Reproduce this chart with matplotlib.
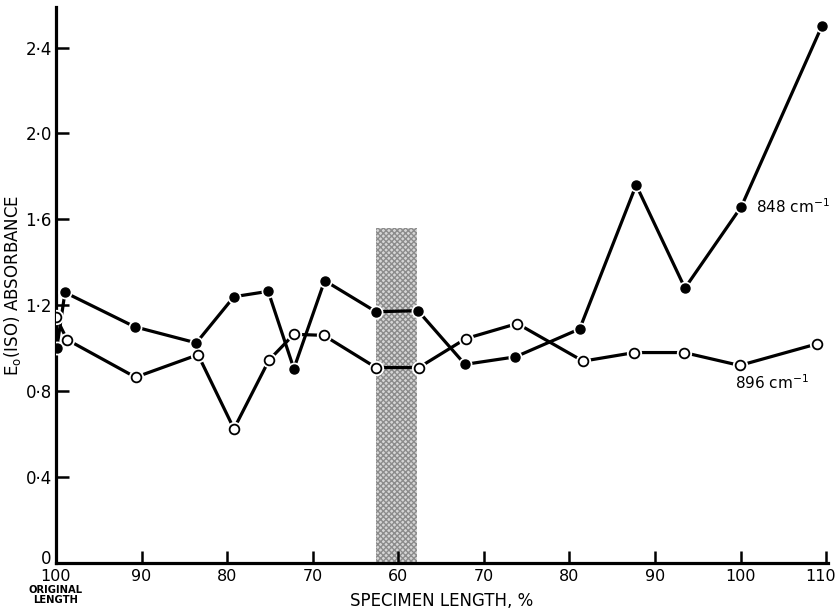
import matplotlib
matplotlib.use('Agg')
import matplotlib.pyplot as plt
import matplotlib.transforms as mtransforms
import numpy as np

# positions along the (folded) length axis: 0 = 100 % original, 40 = 60 %, 90 = 110 %
tick_pos = [0, 10, 20, 30, 40, 50, 60, 70, 80, 90]
tick_labels = ['100', '90', '80', '70', '60', '70', '80', '90', '100', '110']
ytick_vals = [0, 0.4, 0.8, 1.2, 1.6, 2.0, 2.4]
ytick_labels = ['0', '0\u00b74', '0\u00b78', '1\u00b72', '1\u00b76', '2\u00b70', '2\u00b74']

# 848 cm-1 (filled circles)
pos_848 = [0.1, 1.05, 9.2, 16.4, 20.8, 24.8, 27.8, 31.4, 37.4, 42.3, 47.8, 53.7, 61.2, 67.8, 73.5, 80.1, 89.5]
abs_848 = [1.0, 1.26, 1.10, 1.025, 1.24, 1.265, 0.905, 1.315, 1.17, 1.175, 0.925, 0.96, 1.09, 1.76, 1.28, 1.66, 2.50]

# 896 cm-1 (open circles)
pos_896 = [0, 1.3, 9.3, 16.6, 20.8, 24.9, 27.8, 31.3, 37.4, 42.4, 47.9, 53.9, 61.6, 67.6, 73.4, 79.9, 88.9]
abs_896 = [1.145, 1.04, 0.865, 0.97, 0.625, 0.945, 1.065, 1.06, 0.91, 0.91, 1.045, 1.115, 0.94, 0.98, 0.98, 0.92, 1.02]

# shaded zone around the minimum length
shade_left, shade_right, shade_top = 37.4, 42.2, 1.56

plt.rcParams['font.family'] = ['DejaVu Sans']

fig = plt.figure(figsize=(8.39, 6.14), dpi=100)
ax = fig.add_axes([0.0667, 0.083, 0.92, 0.906])

# stippled bar
ax.fill_between([shade_left, shade_right], 0, shade_top, facecolor='#d6d6d6',
                edgecolor='#8c8c8c', hatch='xxxxxx', linewidth=0, zorder=1)

# lines, with a white halo under the markers to give the little gaps
ax.plot(pos_848, abs_848, color='black', lw=2.3, zorder=2)
ax.plot(pos_896, abs_896, color='black', lw=2.3, zorder=2)
ax.plot(pos_848, abs_848, 'o', ms=9, color='white', zorder=3)
ax.plot(pos_896, abs_896, 'o', ms=10, color='white', zorder=3)
ax.plot(pos_848, abs_848, 'o', ms=6.5, color='black', zorder=4)
ax.plot(pos_896, abs_896, 'o', ms=7, mfc='white', mec='black', mew=1.3, zorder=4)

ax.text(81.8, 1.66, '848 cm$^{-1}$', fontsize=11, va='center', ha='left')
ax.text(79.3, 0.84, '896 cm$^{-1}$', fontsize=11, va='center', ha='left')

ax.set_xlim(0, 90.2)
ax.set_ylim(0, 2.59)
ax.set_xticks(tick_pos)
ax.set_xticklabels(tick_labels, fontsize=11.5)
ax.set_yticks(ytick_vals)
ax.set_yticklabels(ytick_labels, fontsize=12)
ax.tick_params(axis='both', direction='in', length=9, width=1.8, pad=4)
ax.tick_params(axis='y', pad=3)

# nudge the last x label (110) inside the figure, and the y "0" up off the "100"
last = ax.get_xticklabels()[-1]
last.set_transform(last.get_transform() +
                   mtransforms.ScaledTranslation(-4 / 72, 0, fig.dpi_scale_trans))
zero = ax.get_yticklabels()[0]
zero.set_transform(zero.get_transform() +
                   mtransforms.ScaledTranslation(0, 4 / 72, fig.dpi_scale_trans))

for s in ['top', 'right']:
    ax.spines[s].set_visible(False)
for s in ['left', 'bottom']:
    ax.spines[s].set_linewidth(2.3)

ax.set_xlabel('SPECIMEN LENGTH, %', fontsize=12, labelpad=6)
ax.set_ylabel('E$_\\mathregular{o}$(ISO) ABSORBANCE', fontsize=12, labelpad=2)

ax.text(0, -0.1, 'ORIGINAL\nLENGTH', fontsize=7.2, fontweight='bold',
        ha='center', va='top', linespacing=1.1)

fig.savefig('out.png', dpi=100)
